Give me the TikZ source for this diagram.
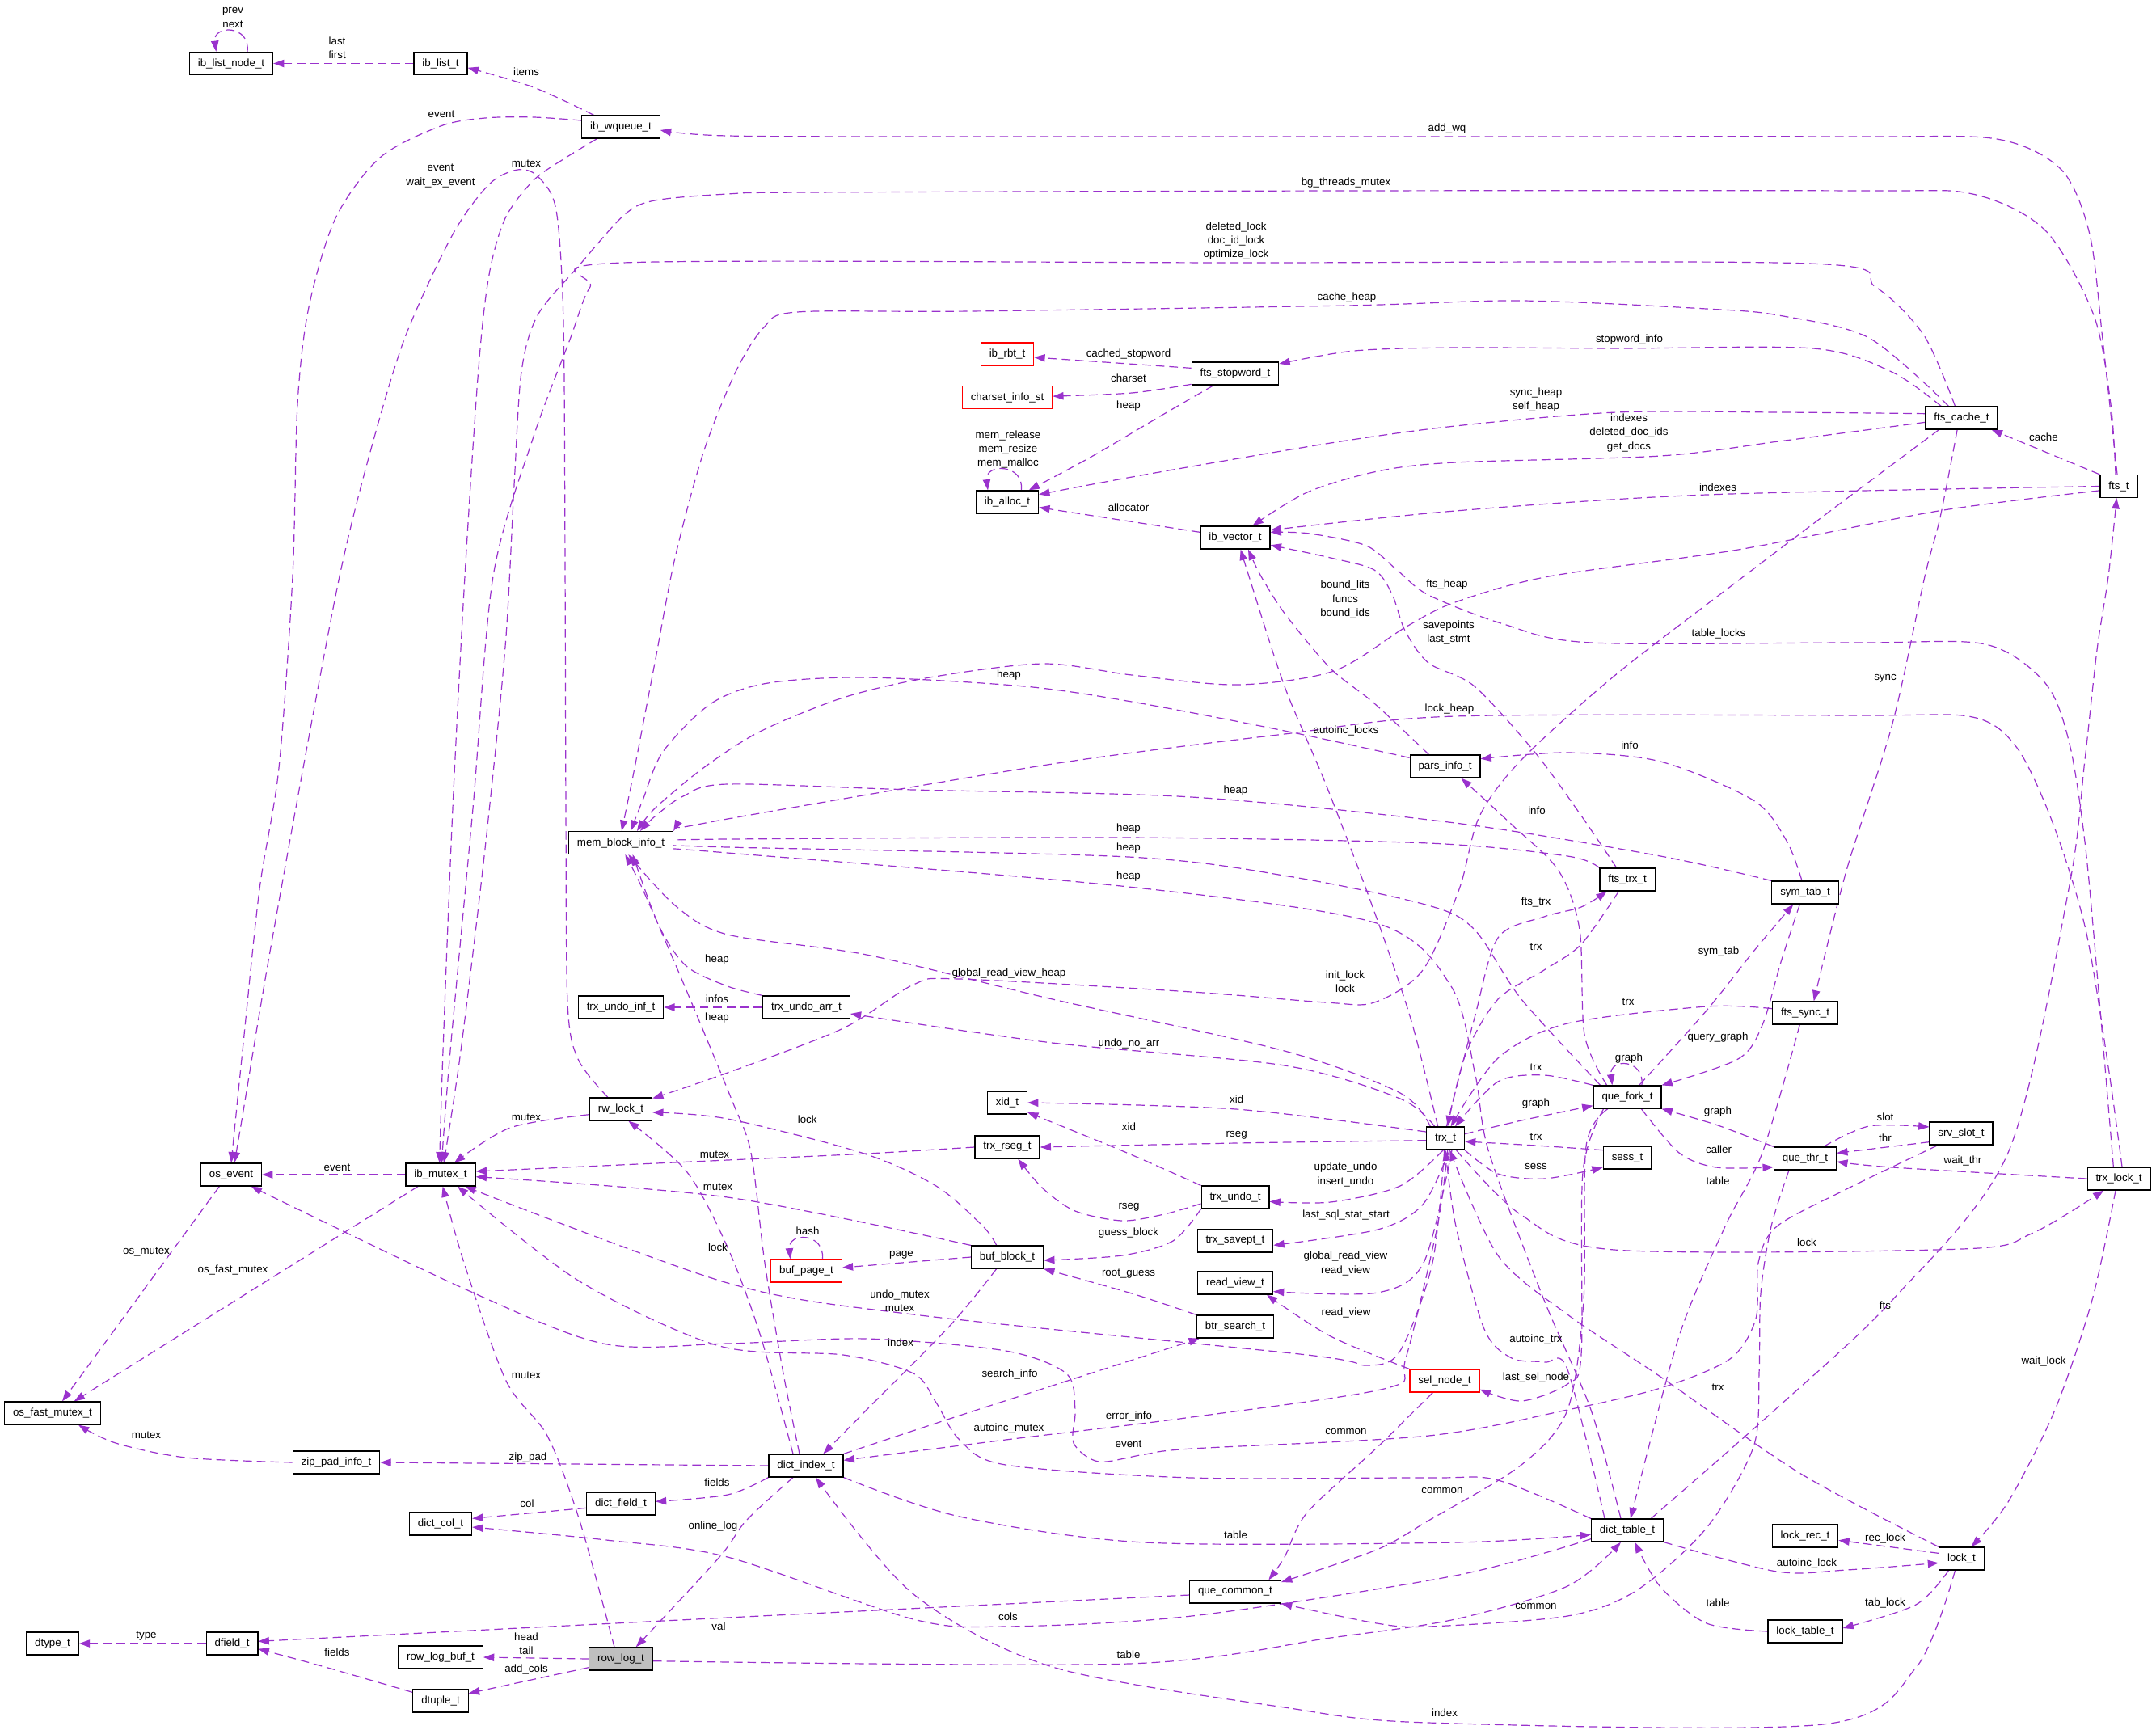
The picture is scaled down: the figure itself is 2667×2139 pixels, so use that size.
\documentclass[tikz,border=0pt]{standalone}
\usepackage{fontspec}
\setmainfont{Liberation Sans}
\usetikzlibrary{arrows.meta}
\definecolor{ec}{HTML}{9A32CD}
\pgfdeclarelayer{bg}
\pgfsetlayers{bg,main}
\begin{document}
\begin{tikzpicture}[x=0.75pt,y=-0.75pt,
  cls/.style={draw=black,line width=0.9pt,fill=white,inner xsep=7.8pt,inner ysep=0pt,minimum height=21pt,font=\fontsize{10}{12}\selectfont},
  redc/.style={cls,draw=red},
  lbl/.style={inner sep=0pt,align=center,font=\fontsize{10}{13}\selectfont},
  edg/.style={draw=ec,line width=0.9pt,dash pattern=on 8pt off 4.5pt,-{Triangle[length=10pt,width=7pt]},smooth,tension=0.5}]
\useasboundingbox (0,0) rectangle (2667,2139);
% ---------------- nodes
\node[cls] (ilnode) at (286,78.5) {ib\_list\_node\_t};
\node[cls] (ilist) at (545,78.5) {ib\_list\_t};
\node[cls] (iwq) at (768,157) {ib\_wqueue\_t};
\node[redc] (rbt) at (1246,438) {ib\_rbt\_t};
\node[redc] (cset) at (1246,491.5) {charset\_info\_st};
\node[cls] (stopw) at (1528,462) {fts\_stopword\_t};
\node[cls] (fcache) at (2426.5,517) {fts\_cache\_t};
\node[cls] (fts) at (2621,601.5) {fts\_t};
\node[cls] (alloc) at (1246,621) {ib\_alloc\_t};
\node[cls] (vec) at (1528,665) {ib\_vector\_t};
\node[cls] (pinfo) at (1787.5,948) {pars\_info\_t};
\node[cls] (mem) at (768,1042.5) {mem\_block\_info\_t};
\node[cls] (ftrx) at (2013,1088) {fts\_trx\_t};
\node[cls] (sym) at (2233,1104) {sym\_tab\_t};
\node[cls] (uinf) at (768,1246) {trx\_undo\_inf\_t};
\node[cls] (uarr) at (997.5,1246) {trx\_undo\_arr\_t};
\node[cls] (fsync) at (2233,1253) {fts\_sync\_t};
\node[cls] (qfork) at (2013,1357) {que\_fork\_t};
\node[cls] (xid) at (1246,1364) {xid\_t};
\node[cls] (rw) at (768,1372) {rw\_lock\_t};
\node[cls] (rseg) at (1246,1419) {trx\_rseg\_t};
\node[cls] (trx) at (1788,1408) {trx\_t};
\node[cls] (slot) at (2426,1402) {srv\_slot\_t};
\node[cls] (qthr) at (2233,1433) {que\_thr\_t};
\node[cls] (oev) at (286,1453) {os\_event};
\node[cls] (mtx) at (545,1453) {ib\_mutex\_t};
\node[cls] (sess) at (2013,1432) {sess\_t};
\node[cls] (tlock) at (2621,1458) {trx\_lock\_t};
\node[cls] (undo) at (1528,1481) {trx\_undo\_t};
\node[cls] (savept) at (1528,1535) {trx\_savept\_t};
\node[redc] (page) at (997.5,1572) {buf\_page\_t};
\node[cls] (block) at (1246,1555) {buf\_block\_t};
\node[cls] (rview) at (1528,1587) {read\_view\_t};
\node[cls] (btr) at (1528,1641) {btr\_search\_t};
\node[redc] (sel) at (1787,1708) {sel\_node\_t};
\node[cls] (fmtx) at (65,1748) {os\_fast\_mutex\_t};
\node[cls] (zip) at (416,1809) {zip\_pad\_info\_t};
\node[cls] (dindex) at (997,1813) {dict\_index\_t};
\node[cls] (dfld) at (768,1860) {dict\_field\_t};
\node[cls] (dcol) at (545,1885) {dict\_col\_t};
\node[cls] (dtable) at (2013,1893) {dict\_table\_t};
\node[cls] (lrec) at (2233,1900) {lock\_rec\_t};
\node[cls] (lock) at (2426.5,1928) {lock\_t};
\node[cls] (qcommon) at (1528,1969) {que\_common\_t};
\node[cls] (dtype) at (65,2033) {dtype\_t};
\node[cls] (dfield) at (287,2033) {dfield\_t};
\node[cls] (rlbuf) at (545,2050) {row\_log\_buf\_t};
\node[cls,fill=gray!50] (rlog) at (768,2052) {row\_log\_t};
\node[cls] (ltable) at (2233,2018) {lock\_table\_t};
\node[cls] (dtuple) at (545,2104) {dtuple\_t};
% ---------------- edges
\begin{pgfonlayer}{bg}
\fill[white] (0,0) rectangle (2667,2139);
\draw[edg] ([xshift=15pt]ilnode.north) .. controls ([xshift=18pt,yshift=25pt]ilnode.north) and ([xshift=-17pt,yshift=25pt]ilnode.north) .. ([xshift=-14pt]ilnode.north);
\draw[edg] (ilist.west) -- (ilnode.east);
\draw[edg] plot coordinates {([xshift=-25pt]iwq.north) (660,108) ([yshift=-4pt]ilist.east)};
\draw[edg] plot coordinates {([yshift=6pt]iwq.west) (660,145) (600,146) (545,156) (470,195) (415,270) (382,380) (368,500) (362,713) (345,950) (321,1100) (300,1300) (oev.north)};
\draw[edg] plot coordinates {([xshift=-12pt]rw.north) (715,1310) (702,1240) (700,1000) (699,700) (697,400) (688,260) (665,218) (640,210) (605,228) (560,290) (500,420) (455,570) (420,713) (375,950) (330,1200) (300,1380) ([xshift=3pt]oev.north)};
\draw[edg] plot coordinates {([xshift=-22pt]iwq.south) (700,195) (660,223) (625,270) (605,340) (592,455) (575,713) (560,1000) (548,1300) ([xshift=-1pt]mtx.north)};
\draw[edg] plot coordinates {([xshift=-1.5pt]fts.north) (2601,420) (2585,290) (2550,210) (2470,172) (2300,169) (1800,169) (1200,169) (900,168) ([yshift=-3pt]iwq.east)};
\draw[edg] plot coordinates {([xshift=-3pt]fts.north) (2611,500) (2590,390) (2530,285) (2440,240) (2300,236) (1665,236) (1000,238) (900,240) (810,248) (772,266) (715,330) (665,390) (645,460) (636,600) (625,800) (600,1050) (570,1300) ([xshift=3pt]mtx.north)};
\draw[edg] plot coordinates {([xshift=-6pt]fcache.north) (2380,415) (2320,355) (2238,326) (1529,325) (770,325) (730,355) (705,420) (660,540) (610,713) (585,1000) (557,1300) ([xshift=1pt]mtx.north)};
\draw[edg] plot coordinates {([xshift=-12pt]fcache.north) (2312,418) (2200,390) (2111,382) (1882,372) (1666,378) (1200,385) (986,386) (945,405) (910,460) (870,560) (835,690) (810,820) (785,950) ([xshift=0.75pt]mem.north)};
\draw[edg] plot coordinates {([xshift=-19pt]fcache.north) (2340,460) (2243,431) (2000,431) (1800,430) (1675,434) ([yshift=9pt]stopw.east)};
\draw[edg] plot coordinates {([yshift=4pt]fcache.west) (2200,510) (2000,510) (1800,527) (1646,548) (1417,587) ([yshift=7pt]alloc.east)};
\draw[edg] plot coordinates {([yshift=-4pt]fcache.west) (2200,546) (2054,564) (1800,572) (1704,583) (1617,609) ([xshift=16pt]vec.north)};
\draw[edg] (fts.north west) -- ([xshift=-6pt]fcache.south east);
\draw[edg] plot coordinates {(fts.west) (2111,612) (1800,632) ([yshift=7pt]vec.east)};
\draw[edg] plot coordinates {([yshift=-4pt]fts.west) (2398,632) (2150,680) (1916,713) (1800,745) (1740,775) (1650,830) (1531,847) (1400,835) (1290,821) (1150,838) (1043,863) (940,905) (870,950) (810,1000) ([xshift=15pt]mem.north)};
\draw[edg] plot coordinates {([xshift=-5pt]tlock.north) (2598,1250) (2580,1050) (2560,920) (2530,845) (2456,797) (2300,795) (1968,795) (1860,772) (1767,736) (1728,705) (1690,675) (1620,660) ([yshift=5pt]vec.east)};
\draw[edg] plot coordinates {([xshift=-10pt]ftrx.north) (1956,1009) (1899,931) (1824,849) (1767,820) (1738,780) (1722,735) (1700,705) (1646,690) ([yshift=-7pt]vec.east)};
\draw[edg] plot coordinates {([xshift=-15pt]pinfo.north) (1700,870) (1646,827) (1590,760) (1560,713) ([xshift=12pt]vec.south)};
\draw[edg] plot coordinates {([xshift=-7pt]trx.north) (1745,1260) (1698,1122) (1640,970) (1589,849) (1545,713) ([xshift=5pt]vec.south)};
\draw[edg] ([yshift=5pt]vec.west) -- ([yshift=-5pt]alloc.east);
\draw[edg] ([yshift=5pt]stopw.west) -- ([yshift=-3pt]rbt.east);
\draw[edg] plot coordinates {([yshift=-10pt]stopw.west) (1400,486) ([yshift=1pt]cset.east)};
\draw[edg] plot coordinates {([xshift=-20pt]stopw.south) (1440,512) (1350,565) ([xshift=20pt]alloc.north)};
\draw[edg] ([xshift=13pt]alloc.north) .. controls ([xshift=16pt,yshift=25pt]alloc.north) and ([xshift=-21pt,yshift=25pt]alloc.north) .. ([xshift=-18pt]alloc.north);
\draw[edg] plot coordinates {([yshift=8pt]pinfo.west) (1589,904) (1400,868) (1267,849) (1072,838) (950,845) (880,870) (820,930) (795,990) ([xshift=9pt]mem.north)};
\draw[edg] plot coordinates {([xshift=-3pt]sym.north) (2210,1040) (2169,990) (2054,942) (1939,931) ([yshift=7pt]pinfo.east)};
\draw[edg] plot coordinates {([xshift=-19pt]qfork.north) (1960,1280) (1954,1150) (1928,1077) (1870,1020) ([xshift=15pt]pinfo.south)};
\draw[edg] plot coordinates {(sym.north west) (2054,1059) (1800,1018) (1474,986) (1130,977) (900,970) (845,985) (810,1010) ([xshift=18pt]mem.north)};
\draw[edg] plot coordinates {([xshift=3pt]tlock.north) (2608,1320) (2580,1150) (2540,1020) (2495,925) (2440,887) (2300,885) (1800,886) (1589,908) (1302,945) (900,1013) (mem.north east)};
\draw[edg] plot coordinates {(ftrx.north west) (1939,1059) (1767,1043) (1396,1036) (900,1038) ([yshift=2pt]mem.east)};
\draw[edg] plot coordinates {([xshift=-25pt]qfork.north) (1882,1236) (1824,1150) (1767,1120) (1600,1085) (1396,1060) (900,1048) ([yshift=-2pt]mem.east)};
\draw[edg] plot coordinates {([xshift=-6pt]dtable.north) (1968,1744) (1910,1608) (1842,1426) (1825,1330) (1795,1220) (1703,1142) (1396,1097) (900,1055) ([yshift=-6pt]mem.east)};
\draw[edg] plot coordinates {([xshift=-14pt]trx.north) (1732,1352) (1589,1300) (1302,1236) (1072,1181) (900,1156) (835,1120) ([xshift=7pt]mem.south)};
\draw[edg] plot coordinates {(uarr.north west) (900,1220) (849,1195) (815,1145) ([xshift=11pt]mem.south)};
\draw[edg] plot coordinates {([xshift=-6pt]dindex.north) (969,1699) (946,1562) (929,1426) (905,1360) (844,1213) (795,1100) ([xshift=4pt]mem.south)};
\draw[edg] (uarr.west) -- (uinf.east);
\draw[edg] plot coordinates {([xshift=-10pt]trx.north) (1732,1359) (1589,1318) (1302,1290) ([yshift=-6pt]uarr.east)};
\draw[edg] plot coordinates {([xshift=-21pt]fcache.south) (2280,620) (2157,713) (1997,836) (1882,940) (1830,1010) (1805,1100) (1760,1200) (1700,1240) (1640,1240) (1474,1227) (1187,1211) (1130,1218) (1043,1272) (900,1327) ([yshift=10pt]rw.east)};
\draw[edg] plot coordinates {([xshift=-4pt]fcache.south) (2400,640) (2381,713) (2341,895) (2284,1077) ([xshift=8pt]fsync.north)};
\draw[edg] plot coordinates {([xshift=-8pt]ftrx.south) (1956,1168) (1910,1200) (1853,1236) (1813,1304) ([xshift=2pt]trx.north)};
\draw[edg] plot coordinates {([xshift=1pt]trx.north) (1824,1259) (1853,1160) (1910,1134) (1956,1122) ([xshift=-19pt]ftrx.south)};
\draw[edg] plot coordinates {([yshift=4pt]fsync.west) (2111,1245) (1939,1266) (1853,1309) ([xshift=5pt]trx.north)};
\draw[edg] plot coordinates {(qfork.north west) (1910,1330) (1853,1338) ([xshift=9pt]trx.north)};
\draw[edg] plot coordinates {([yshift=4pt]trx.east) (1882,1386) ([yshift=-8pt]qfork.west)};
\draw[edg] plot coordinates {([yshift=7pt]sess.west) (1900,1417) ([yshift=-3pt]trx.east)};
\draw[edg] plot coordinates {(trx.south east) (1853,1452) (1911,1458) ([yshift=-9pt]sess.west)};
\draw[edg] ([xshift=13.5pt]qfork.north) .. controls ([xshift=16pt,yshift=25pt]qfork.north) and ([xshift=-17pt,yshift=25pt]qfork.north) .. ([xshift=-14pt]qfork.north);
\draw[edg] plot coordinates {([xshift=11pt]qfork.north) (2111,1250) (2169,1177) ([xshift=-11pt]sym.south)};
\draw[edg] plot coordinates {([xshift=-5pt]sym.south) (2203,1190) (2180,1268) (2150,1310) (qfork.north east)};
\draw[edg] plot coordinates {(qthr.north west) (2125,1392) (qfork.south east)};
\draw[edg] plot coordinates {([xshift=13pt]qfork.south) (2077,1426) (2123,1444) ([yshift=-8pt]qthr.west)};
\draw[edg] plot coordinates {([xshift=17pt]qthr.north) (2312,1393) ([yshift=6pt]slot.west)};
\draw[edg] ([yshift=-8pt]slot.west) -- ([yshift=5pt]qthr.east);
\draw[edg] plot coordinates {(tlock.west) (2341,1444) ([yshift=-3pt]qthr.east)};
\draw[edg] plot coordinates {([xshift=10pt]trx.south) (1882,1503) (1997,1546) (2427,1545) (2513,1526) ([xshift=-14pt]tlock.south)};
\draw[edg] plot coordinates {([xshift=-3pt]tlock.south) (2588,1608) (2542,1744) (2484,1858) ([xshift=9pt]lock.north)};
\draw[edg] plot coordinates {(lock.north west) (2226,1822) (2054,1703) (1939,1626) (1853,1553) ([xshift=4pt]trx.south)};
\draw[edg] ([yshift=5pt]lock.west) -- ([yshift=-4pt]lrec.east);
\draw[edg] plot coordinates {(dtable.south east) (2198,1944) (2284,1942) ([yshift=-4pt]lock.west)};
\draw[edg] plot coordinates {([xshift=-12pt]lock.south) (2370,1985) ([yshift=3pt]ltable.east)};
\draw[edg] plot coordinates {(ltable.west) (2111,2008) (2054,1963) ([xshift=7pt]dtable.south)};
\draw[edg] plot coordinates {([xshift=-6pt]lock.south) (2370,2063) (2255,2133) (1767,2131) (1589,2112) (1302,2062) (1130,1972) ([xshift=9pt]dindex.south)};
\draw[edg] plot coordinates {([xshift=22pt]dtable.north) (2200,1740) (2341,1608) (2484,1426) (2559,1100) (2579,940) (2594,804) (2608,713) ([xshift=-2pt]fts.south)};
\draw[edg] plot coordinates {([xshift=-5pt]fsync.south) (2180,1426) (2134,1517) (2077,1653) ([xshift=3pt]dtable.north)};
\draw[edg] plot coordinates {([xshift=-21pt]dtable.north) (1939,1694) (1911,1685) (1870,1680) (1836,1644) (1801,1517) (trx.south)};
\draw[edg] plot coordinates {([yshift=-8pt]dtable.west) (1800,1949) (1474,1999) (1244,2012) (1130,2003) (900,1926) (750,1905) ([yshift=-3pt]dcol.east)};
\draw[edg] plot coordinates {(dindex.south east) (1187,1876) (1416,1908) (1800,1908) ([yshift=-4pt]dtable.west)};
\draw[edg] plot coordinates {(dtable.north west) (1853,1831) (1767,1828) (1474,1828) (1244,1812) (1187,1781) (1158,1735) (1130,1699) (1043,1676) (890,1665) (717,1585) ([xshift=-17pt]mtx.south east)};
\draw[edg] plot coordinates {([xshift=8pt]slot.south west) (2284,1471) (2198,1517) (2175,1562) (2172,1631) (2140,1681) (2054,1717) (1939,1744) (1767,1776) (1474,1792) (1416,1799) (1359,1808) (1328,1785) (1330,1744) (1319,1699) (1244,1671) (1072,1656) (900,1662) (746,1662) (574,1594) ([xshift=-10pt]oev.south east)};
\draw[edg] plot coordinates {([xshift=-1pt]trx.south) (1772,1562) (1732,1671) (1692,1689) (1617,1676) (1130,1626) (900,1587) ([xshift=-10pt]mtx.south east)};
\draw[edg] plot coordinates {([xshift=2pt]trx.south) (1778,1517) (1739,1680) (1716,1717) (1474,1753) (1244,1781) ([yshift=5pt]dindex.east)};
\draw[edg] plot coordinates {(dindex.north east) (1187,1751) ([xshift=3pt]btr.south west)};
\draw[edg] plot coordinates {([xshift=-10pt]block.south) (1175,1640) (1072,1744) ([xshift=16pt]dindex.north)};
\draw[edg] (block.west) -- ([yshift=3pt]page.east);
\draw[edg] ([xshift=15pt]page.north) .. controls ([xshift=17pt,yshift=25pt]page.north) and ([xshift=-17pt,yshift=25pt]page.north) .. ([xshift=-15pt]page.north);
\draw[edg] plot coordinates {(btr.north west) (1400,1600) (block.south east)};
\draw[edg] plot coordinates {(undo.south west) (1451,1535) (1388,1553) ([yshift=-3pt]block.east)};
\draw[edg] plot coordinates {([yshift=-6pt]undo.west) (1440,1502) (1388,1510) (1330,1498) (1290,1470) ([xshift=10pt]rseg.south)};
\draw[edg] plot coordinates {(undo.north west) (1394,1426) ([yshift=2pt]xid.south east)};
\draw[edg] plot coordinates {([yshift=6pt]trx.west) (1529,1372) (xid.east)};
\draw[edg] plot coordinates {([yshift=-2pt]trx.west) (1529,1414) (rseg.east)};
\draw[edg] plot coordinates {(rseg.west) (1072,1427) (900,1435) ([yshift=3pt]mtx.east)};
\draw[edg] plot coordinates {(block.north west) (900,1481) ([yshift=-2pt]mtx.east)};
\draw[edg] plot coordinates {([xshift=-10pt]block.north) (1216,1517) (1158,1467) (1066,1426) (900,1384) ([yshift=-3pt]rw.east)};
\draw[edg] plot coordinates {([xshift=-12pt]dindex.north) (940,1650) (900,1543) (850,1450) ([xshift=7pt]rw.south)};
\draw[edg] plot coordinates {([yshift=-5pt]rw.west) (631,1395) ([xshift=-20pt]mtx.north east)};
\draw[edg] (mtx.west) -- (oev.east);
\draw[edg] ([xshift=-11pt]oev.south) -- ([xshift=9pt]fmtx.north);
\draw[edg] ([xshift=-21pt]mtx.south) -- ([xshift=20pt]fmtx.north);
\draw[edg] plot coordinates {(zip.west) (230,1803) (143,1785) ([xshift=24pt]fmtx.south)};
\draw[edg] (dindex.west) -- (zip.east);
\draw[edg] plot coordinates {(dindex.south west) (900,1849) ([yshift=2pt]dfld.east)};
\draw[edg] ([yshift=-4pt]dfld.west) -- ([yshift=5pt]dcol.east);
\draw[edg] plot coordinates {([xshift=-12pt]dindex.south) (923,1881) (890,1926) ([xshift=14pt]rlog.north)};
\draw[edg] plot coordinates {([xshift=-6pt]rlog.north) (717,1881) (677,1776) (626,1708) (574,1562) ([xshift=2pt]mtx.south)};
\draw[edg] (rlog.west) -- (rlbuf.east);
\draw[edg] ([yshift=-8pt]rlog.west) -- ([yshift=7pt]dtuple.east);
\draw[edg] plot coordinates {([yshift=8pt]dtuple.west) (402,2062) ([yshift=-5pt]dfield.east)};
\draw[edg] (dfield.west) -- (dtype.east);
\draw[edg] plot coordinates {([yshift=-3pt]qcommon.west) (900,2001) ([yshift=2pt]dfield.east)};
\draw[edg] plot coordinates {([yshift=-2pt]rlog.east) (1396,2058) (1646,2026) (1800,2003) (1939,1962) ([xshift=-6pt]dtable.south)};
\draw[edg] plot coordinates {([xshift=-15pt]qthr.south) (2191,1517) (2178,1600) (2176,1699) (2169,1790) (2111,1890) (2025,1967) (1939,1999) (1767,2012) (1703,2008) (qcommon.south east)};
\draw[edg] plot coordinates {([xshift=-18pt]qfork.south) (1962,1418) (1959,1608) (1939,1744) (1882,1812) (1767,1881) (1703,1917) ([yshift=9pt]qcommon.east)};
\draw[edg] plot coordinates {([xshift=-22pt]qfork.south) (1958,1450) (1956,1676) (1939,1712) (1882,1733) ([yshift=-8pt]sel.east)};
\draw[edg] plot coordinates {([xshift=-11pt]sel.south) (1704,1790) (1617,1871) (1589,1926) ([xshift=31pt]qcommon.north)};
\draw[edg] plot coordinates {(sel.north west) (1646,1653) ([xshift=-6pt]rview.south east)};
\draw[edg] plot coordinates {([xshift=6pt]trx.south) (1761,1562) (1704,1599) ([yshift=3pt]rview.south east)};
\draw[edg] plot coordinates {([xshift=4pt]trx.south) (1760,1490) (1704,1521) ([yshift=-4pt]savept.east)};
\draw[edg] plot coordinates {([xshift=-2pt]trx.south) (1732,1467) (1646,1487) ([yshift=-4pt]undo.east)};
\end{pgfonlayer}
% ---------------- labels
\node[lbl] (l1) at (288,22) {prev\\next};
\node[lbl] (l2) at (417,59.5) {last\\first};
\node[lbl] (l3) at (651,89) {items};
\node[lbl] (l4) at (1790,159) {add\_wq};
\node[lbl] (l5) at (546,141) {event};
\node[lbl] (l6) at (651,202) {mutex};
\node[lbl] (l7) at (545,217.5) {event\\wait\_ex\_event};
\node[lbl] (l8) at (1665,226) {bg\_threads\_mutex};
\node[lbl] (l9) at (1529,298) {deleted\_lock\\doc\_id\_lock\\optimize\_lock};
\node[lbl] (l10) at (1666,368) {cache\_heap};
\node[lbl] (l11) at (2015.5,420.5) {stopword\_info};
\node[lbl] (l12) at (1396,438) {cached\_stopword};
\node[lbl] (l13) at (1396,468) {charset};
\node[lbl] (l14) at (1396,502) {heap};
\node[lbl] (l15) at (1900,494.7) {sync\_heap\\self\_heap};
\node[lbl] (l16) at (2015,535.5) {indexes\\deleted\_doc\_ids\\get\_docs};
\node[lbl] (l17) at (1247,556) {mem\_release\\mem\_resize\\mem\_malloc};
\node[lbl] (l18) at (2528,541) {cache};
\node[lbl] (l19) at (2125,602.5) {indexes};
\node[lbl] (l20) at (1396,627.5) {allocator};
\node[lbl] (l21) at (1790,723) {fts\_heap};
\node[lbl] (l22) at (1664,741.5) {bound\_lits\\funcs\\bound\_ids};
\node[lbl] (l23) at (1792,782.5) {savepoints\\last\_stmt};
\node[lbl] (l24) at (2126,784) {table\_locks};
\node[lbl] (l25) at (1248,835) {heap};
\node[lbl] (l26) at (2332,839) {sync};
\node[lbl] (l27) at (1793,877) {lock\_heap};
\node[lbl] (l28) at (1665,904) {autoinc\_locks};
\node[lbl] (l29) at (2016,922) {info};
\node[lbl] (l30) at (1528.5,978.5) {heap};
\node[lbl] (l31) at (1901,1003) {info};
\node[lbl] (l32) at (1396,1025) {heap};
\node[lbl] (l33) at (1396,1048.6) {heap};
\node[lbl] (l34) at (1396,1084.5) {heap};
\node[lbl] (l35) at (1900,1116) {fts\_trx};
\node[lbl] (l36) at (1900,1171) {trx};
\node[lbl] (l37) at (2126,1177) {sym\_tab};
\node[lbl] (l38) at (887,1187) {heap};
\node[lbl] (l39) at (1248,1203.6) {global\_read\_view\_heap};
\node[lbl] (l40) at (1664,1214.5) {init\_lock\\lock};
\node[lbl] (l41) at (887,1236) {infos};
\node[lbl] (l42) at (2014,1239.5) {trx};
\node[lbl] (l43) at (887,1259) {heap};
\node[lbl] (l44) at (2125,1283) {query\_graph};
\node[lbl] (l45) at (1396.5,1291) {undo\_no\_arr};
\node[lbl] (l46) at (2015,1309) {graph};
\node[lbl] (l47) at (1900,1320) {trx};
\node[lbl] (l48) at (1529.7,1360) {xid};
\node[lbl] (l49) at (1900,1364.6) {graph};
\node[lbl] (l50) at (2125,1375.5) {graph};
\node[lbl] (l51) at (2332,1382) {slot};
\node[lbl] (l52) at (651,1382) {mutex};
\node[lbl] (l53) at (998.7,1384.6) {lock};
\node[lbl] (l54) at (1396.5,1393.7) {xid};
\node[lbl] (l55) at (1529.7,1404) {rseg};
\node[lbl] (l56) at (1900,1406) {trx};
\node[lbl] (l57) at (2332,1408) {thr};
\node[lbl] (l58) at (2126,1422) {caller};
\node[lbl] (l59) at (884,1428) {mutex};
\node[lbl] (l60) at (2428,1436) {wait\_thr};
\node[lbl] (l61) at (417,1444) {event};
\node[lbl] (l62) at (1900,1443) {sess};
\node[lbl] (l63) at (1664.5,1453) {update\_undo\\insert\_undo};
\node[lbl] (l64) at (2125,1460.5) {table};
\node[lbl] (l65) at (888,1468) {mutex};
\node[lbl] (l66) at (1396.5,1493) {rseg};
\node[lbl] (l67) at (1665,1503) {last\_sql\_stat\_start};
\node[lbl] (l68) at (999,1523) {hash};
\node[lbl] (l69) at (1396,1525) {guess\_block};
\node[lbl] (l70) at (2235,1536.5) {lock};
\node[lbl] (l71) at (888,1543) {lock};
\node[lbl] (l72) at (181,1548) {os\_mutex};
\node[lbl] (l73) at (1115,1552) {page};
\node[lbl] (l74) at (1664.5,1563) {global\_read\_view\\read\_view};
\node[lbl] (l75) at (288,1571) {os\_fast\_mutex};
\node[lbl] (l76) at (1396,1575.6) {root\_guess};
\node[lbl] (l77) at (1113,1609) {undo\_mutex\\mutex};
\node[lbl] (l78) at (2332,1615) {fts};
\node[lbl] (l79) at (1665,1624) {read\_view};
\node[lbl] (l80) at (1900,1656.5) {autoinc\_trx};
\node[lbl] (l81) at (1114,1660.6) {index};
\node[lbl] (l82) at (2528,1684) {wait\_lock};
\node[lbl] (l83) at (1249,1700) {search\_info};
\node[lbl] (l84) at (651,1701) {mutex};
\node[lbl] (l85) at (1900,1704) {last\_sel\_node};
\node[lbl] (l86) at (2125,1716) {trx};
\node[lbl] (l87) at (1396.5,1751.6) {error\_info};
\node[lbl] (l88) at (1248,1766.6) {autoinc\_mutex};
\node[lbl] (l89) at (1665,1770.7) {common};
\node[lbl] (l90) at (181,1775) {mutex};
\node[lbl] (l91) at (1396,1786.6) {event};
\node[lbl] (l92) at (653,1803) {zip\_pad};
\node[lbl] (l93) at (887,1834) {fields};
\node[lbl] (l94) at (1784,1844) {common};
\node[lbl] (l95) at (652,1860) {col};
\node[lbl] (l96) at (882,1888) {online\_log};
\node[lbl] (l97) at (1528.5,1899) {table};
\node[lbl] (l98) at (2332,1902.5) {rec\_lock};
\node[lbl] (l99) at (2235,1934) {autoinc\_lock};
\node[lbl] (l100) at (2125,1982.5) {table};
\node[lbl] (l101) at (2332,1982.5) {tab\_lock};
\node[lbl] (l102) at (1900,1986.6) {common};
\node[lbl] (l103) at (1247,2000) {cols};
\node[lbl] (l104) at (889,2012) {val};
\node[lbl] (l105) at (181,2024) {type};
\node[lbl] (l106) at (651,2033.5) {head\\tail};
\node[lbl] (l107) at (417,2044) {fields};
\node[lbl] (l108) at (1396,2047) {table};
\node[lbl] (l109) at (651,2065) {add\_cols};
\node[lbl] (l110) at (1787,2119) {index};
\end{tikzpicture}
\end{document}
